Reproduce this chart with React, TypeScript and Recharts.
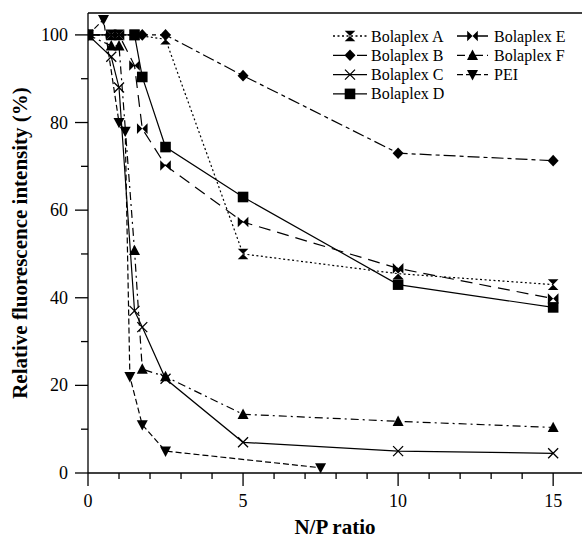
import React from "react";
import { Legend, Line, LineChart, ReferenceLine, XAxis, YAxis } from "recharts";

const FONT = "Liberation Serif";

// N/P ratio (x) and relative fluorescence intensity in % (y)
const npA = [0, 0.75, 1, 1.5, 2.5, 5, 10, 15];
const fluoA = [100, 100, 100, 100, 99, 50, 45.5, 43];

const npB = [0, 1.75, 2.5, 5, 10, 15];
const fluoB = [100, 100, 100, 90.7, 73, 71.3];

const npC = [0, 0.75, 1, 1.5, 1.75, 2.5, 5, 10, 15];
const fluoC = [100, 95, 88, 37, 33.3, 21.5, 7, 5, 4.5];

const npD = [0, 1.5, 1.75, 2.5, 5, 10, 15];
const fluoD = [100, 100, 90.4, 74.4, 63, 43, 37.8];

const npE = [0, 0.75, 1, 1.5, 1.75, 2.5, 5, 10, 15];
const fluoE = [100, 100, 100, 93, 78.6, 70.2, 57.3, 46.7, 39.8];

const npF = [0, 0.75, 1, 1.5, 1.75, 2.5, 5, 10, 15];
const fluoF = [100, 97.5, 97.5, 50.8, 23.7, 22, 13.4, 11.8, 10.4];

const npPEI = [0, 0.5, 1, 1.2, 1.35, 1.75, 2.5, 7.5];
const fluoPEI = [100, 103.5, 80, 78, 22, 11, 5, 1.2];

const xTicks = [0, 1, 2, 3, 4, 5, 6, 7, 8, 9, 10, 11, 12, 13, 14, 15];
const yTicks = [0, 10, 20, 30, 40, 50, 60, 70, 80, 90, 100];

const toPoints = (xs: number[], ys: number[]) => xs.map((x, i) => ({ x, y: ys[i] }));

type Kind = "hourglass" | "diamond" | "cross" | "square" | "bowtie" | "up" | "down";

const series: { name: string; data: { x: number; y: number }[]; kind: Kind; dash?: string }[] = [
  { name: "Bolaplex A", data: toPoints(npA, fluoA), kind: "hourglass", dash: "2 2.5" },
  { name: "Bolaplex B", data: toPoints(npB, fluoB), kind: "diamond", dash: "12 4 4 4" },
  { name: "Bolaplex C", data: toPoints(npC, fluoC), kind: "cross" },
  { name: "Bolaplex D", data: toPoints(npD, fluoD), kind: "square" },
  { name: "Bolaplex E", data: toPoints(npE, fluoE), kind: "bowtie", dash: "12 7" },
  { name: "Bolaplex F", data: toPoints(npF, fluoF), kind: "up", dash: "8 4 2 4" },
  { name: "PEI", data: toPoints(npPEI, fluoPEI), kind: "down", dash: "6 3" },
];

function Marker({ kind, cx, cy }: { kind: Kind; cx: number; cy: number }) {
  const s = 5.3;
  switch (kind) {
    case "hourglass":
      return <path d={`M${cx - s},${cy - s}H${cx + s}L${cx - s},${cy + s}H${cx + s}Z`} fill="#000" />;
    case "bowtie":
      return <path d={`M${cx - s},${cy - s}V${cy + s}L${cx + s},${cy - s}V${cy + s}Z`} fill="#000" />;
    case "diamond":
      return <path d={`M${cx},${cy - 5.8}L${cx + 5.5},${cy}L${cx},${cy + 5.8}L${cx - 5.5},${cy}Z`} fill="#000" />;
    case "square":
      return <rect x={cx - s} y={cy - s} width={2 * s} height={2 * s} fill="#000" />;
    case "cross":
      return (
        <path
          d={`M${cx - 5},${cy - 5}L${cx + 5},${cy + 5}M${cx - 5},${cy + 5}L${cx + 5},${cy - 5}`}
          stroke="#000"
          strokeWidth={1.3}
          fill="none"
        />
      );
    case "up":
      return <path d={`M${cx},${cy - 5.8}L${cx + 5.5},${cy + 4.6}L${cx - 5.5},${cy + 4.6}Z`} fill="#000" />;
    case "down":
      return <path d={`M${cx},${cy + 5.8}L${cx + 5.5},${cy - 4.6}L${cx - 5.5},${cy - 4.6}Z`} fill="#000" />;
  }
  return null;
}

const XTick = (p: any) => {
  const { x, y, payload } = p;
  const major = payload.value % 5 === 0;
  return (
    <g>
      <line x1={x} x2={x} y1={y} y2={y + (major ? 13 : 6)} stroke="#000" strokeWidth={1.3} />
      {major && (
        <text x={x} y={y + 34} textAnchor="middle" fontFamily={FONT} fontSize={18} fill="#000">
          {payload.value}
        </text>
      )}
    </g>
  );
};

const YTick = (p: any) => {
  const { x, y, payload } = p;
  const major = payload.value % 20 === 0;
  return (
    <g>
      <line x1={x - (major ? 13 : 7)} x2={x} y1={y} y2={y} stroke="#000" strokeWidth={1.3} />
      {major && (
        <text x={x - 20} y={y + 6} textAnchor="end" fontFamily={FONT} fontSize={18} fill="#000">
          {payload.value}
        </text>
      )}
    </g>
  );
};

// legend grid: two columns, rows 19.3px apart
const legendCols = [
  { x1: 333, x2: 367, text: 371 },
  { x1: 457, x2: 488, text: 494 },
];

function LegendBox() {
  return (
    <svg width={582} height={110} style={{ display: "block" }}>
      {series.map((s, i) => {
        const col = legendCols[i < 4 ? 0 : 1];
        const cy = 36 + (i < 4 ? i : i - 4) * 19.3;
        const mid = (col.x1 + col.x2) / 2;
        return (
          <g key={s.name}>
            <line x1={col.x1} x2={col.x2} y1={cy} y2={cy} stroke="#000" strokeWidth={1.3} strokeDasharray={s.dash} />
            <Marker kind={s.kind} cx={mid} cy={cy} />
            <text x={col.text} y={cy + 5.5} fontFamily={FONT} fontSize={16} fill="#000">
              {s.name}
            </text>
          </g>
        );
      })}
    </svg>
  );
}

export default function App() {
  return (
    <div style={{ position: "absolute", left: 0, top: 0, width: 582, height: 538, background: "#fff", fontFamily: FONT }}>
      <LineChart width={582} height={538} margin={{ top: 13, right: 0, bottom: 5, left: 0 }}>
        <XAxis
          dataKey="x"
          type="number"
          domain={[0, 15.93]}
          ticks={xTicks}
          interval={0}
          allowDataOverflow
          height={60}
          tickSize={0}
          tickMargin={0}
          tickLine={false}
          tick={XTick}
          axisLine={{ stroke: "#000", strokeWidth: 1.3 }}
        />
        <YAxis
          type="number"
          domain={[0, 105]}
          ticks={yTicks}
          interval={0}
          width={88}
          tickSize={0}
          tickMargin={0}
          tickLine={false}
          tick={YTick}
          axisLine={{ stroke: "#000", strokeWidth: 1.3 }}
        />
        <ReferenceLine y={105} stroke="#000" strokeWidth={1.3} />
        {series.map((s) => (
          <Line
            key={s.name}
            data={s.data}
            dataKey="y"
            name={s.name}
            type="linear"
            stroke="#000"
            strokeWidth={1.2}
            strokeDasharray={s.dash}
            isAnimationActive={false}
            activeDot={false}
            dot={(p: any) => <Marker key={`${s.name}-${p.index}`} kind={s.kind} cx={p.cx} cy={p.cy} />}
          />
        ))}
        <Legend
          layout="vertical"
          align="center"
          verticalAlign="middle"
          content={() => <LegendBox />}
          wrapperStyle={{ top: 0, left: 0, width: 582, height: 110 }}
        />
      </LineChart>
      <svg width={582} height={538} style={{ position: "absolute", left: 0, top: 0, pointerEvents: "none" }}>
        <text x={335} y={534} textAnchor="middle" fontFamily={FONT} fontSize={21} fontWeight="bold" fill="#000">
          N/P ratio
        </text>
        <text
          x={26.5}
          y={243}
          textAnchor="middle"
          fontFamily={FONT}
          fontSize={21}
          fontWeight="bold"
          fill="#000"
          transform="rotate(-90 26.5 243)"
        >
          Relative fluorescence intensity (%)
        </text>
      </svg>
    </div>
  );
}
